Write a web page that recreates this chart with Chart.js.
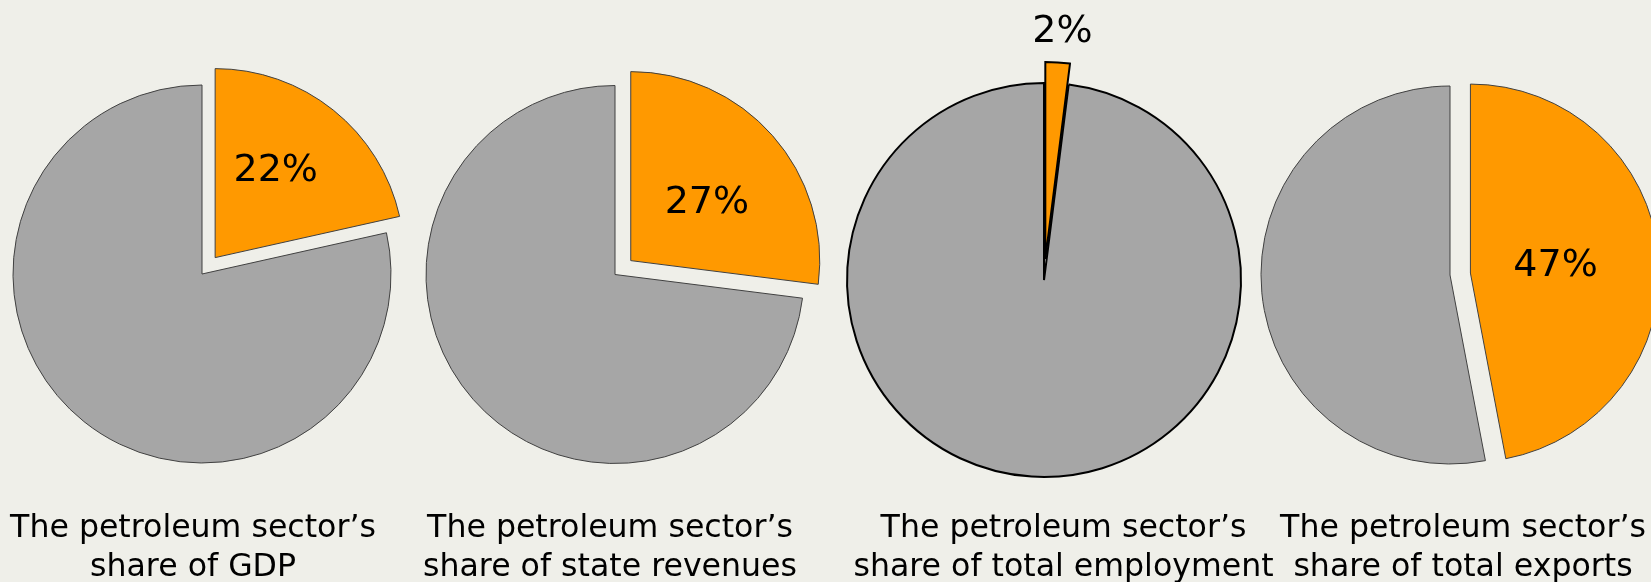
<!DOCTYPE html>
<html>
<head>
<meta charset="utf-8">
<script src="https://cdn.jsdelivr.net/npm/chart.js@4.4.0/dist/chart.umd.min.js"></script>
<style>
  html, body { margin: 0; padding: 0; width: 1651px; height: 582px; overflow: hidden; background: #EFEFE9; }
  #root { position: relative; width: 1651px; height: 582px; overflow: hidden; }
  .wrap { position: absolute; top: 0; width: 520px; height: 582px; }
  canvas { display: block; }
</style>
</head>
<body>
<div id="root"></div>
<script>
// ---------- data ----------
const sliceLabels = ["Petroleum sector", "Other sectors"];
const petroleumShare = [21.5, 27, 2, 47];
const otherShare = [78.5, 73, 98, 53];
const captionLine1 = [
  "The petroleum sector\u2019s",
  "The petroleum sector\u2019s",
  "The petroleum sector\u2019s",
  "The petroleum sector\u2019s"
];
const captionLine2 = [
  "share of GDP",
  "share of state revenues",
  "share of total employment",
  "share of total exports"
];

// ---------- layout / style (no data) ----------
const sliceColors = ["#FF9900", "#A6A6A6"];
const pieStyles = [
  { cx: 202,    cy: 274,   r: 189, explode: 21,   border: "#404040", bw: 1, labelFrac: 0.578, labelRot: -5.0, capDx: -9 },
  { cx: 615,    cy: 274.5, r: 189, explode: 21,   border: "#404040", bw: 1, labelFrac: 0.520, labelRot: 2.2,  capDx: -5 },
  { cx: 1043.5, cy: 280,   r: 197, explode: 21,   border: "#000000", bw: 2, labelFrac: 1.178, labelRot: 0.65, capDx: 19.5 },
  { cx: 1450,   cy: 275,   r: 189, explode: 20.5, border: "#404040", bw: 1, labelFrac: 0.455, labelRot: -2.6, capDx: 13 }
];
const W = 520, H = 582;
const labelFontSize = 38;

// ---------- plugins ----------
const explodePlugin = {
  id: "explode",
  afterDatasetsUpdate(chart, args, opts) {
    const meta = chart.getDatasetMeta(0);
    const ca = chart.chartArea;
    const cx = (ca.left + ca.right) / 2, cy = (ca.top + ca.bottom) / 2;
    meta.data.forEach((arc, j) => {
      const d = (opts.distances || [])[j] || 0;
      const mid = (arc.startAngle + arc.endAngle) / 2;
      arc.x = cx + Math.cos(mid) * d;
      arc.y = cy + Math.sin(mid) * d;
    });
  }
};

const labelPlugin = {
  id: "sliceLabels",
  afterDatasetsDraw(chart, args, opts) {
    const ctx = chart.ctx;
    const meta = chart.getDatasetMeta(0);
    const ds = chart.data.datasets[0];
    ctx.save();
    ctx.font = opts.size + "px 'DejaVu Sans'";
    ctx.fillStyle = opts.color;
    ctx.textAlign = "center";
    ctx.textBaseline = "alphabetic";
    meta.data.forEach((arc, j) => {
      if (!opts.show[j]) return;
      const mid = (arc.startAngle + arc.endAngle) / 2 + opts.rot * Math.PI / 180;
      const dist = arc.outerRadius * opts.frac;
      const x = arc.x + Math.cos(mid) * dist;
      const y = arc.y + Math.sin(mid) * dist + opts.size * 0.38;
      ctx.fillText(Math.round(ds.data[j]) + "%", x, y);
    });
    ctx.restore();
  }
};

const captionPlugin = {
  id: "caption",
  afterDraw(chart, args, opts) {
    const ctx = chart.ctx;
    const ca = chart.chartArea;
    const x = (ca.left + ca.right) / 2 + opts.dx;
    ctx.save();
    ctx.font = opts.font;
    ctx.fillStyle = opts.color;
    ctx.textAlign = "center";
    ctx.textBaseline = "alphabetic";
    opts.lines.forEach((t, k) => ctx.fillText(t, x, opts.baseline + k * opts.lineHeight));
    ctx.restore();
  }
};

// ---------- charts ----------
const root = document.getElementById("root");
pieStyles.forEach((s, i) => {
  const div = document.createElement("div");
  div.className = "wrap";
  div.style.left = (s.cx - W / 2) + "px";
  const c = document.createElement("canvas");
  c.width = W; c.height = H;
  c.style.width = W + "px"; c.style.height = H + "px";
  div.appendChild(c);
  root.appendChild(div);

  new Chart(c, {
    type: "pie",
    data: {
      labels: sliceLabels,
      datasets: [{
        data: [petroleumShare[i], otherShare[i]],
        backgroundColor: sliceColors,
        borderColor: s.border,
        borderWidth: s.bw,
        borderJoinStyle: "miter",
        radius: s.r
      }]
    },
    options: {
      responsive: false,
      animation: false,
      events: [],
      layout: { padding: { top: 0, left: 0, right: 0, bottom: H - 2 * s.cy } },
      plugins: {
        legend: { display: false },
        tooltip: { enabled: false },
        title: { display: false },
        explode: { distances: [s.explode, 0] },
        sliceLabels: {
          show: [true, false],
          size: labelFontSize,
          color: "#000000",
          frac: s.labelFrac,
          rot: s.labelRot
        },
        caption: {
          lines: [captionLine1[i], captionLine2[i]],
          font: "31.6px 'DejaVu Sans'",
          color: "#000000",
          dx: s.capDx,
          baseline: 537,
          lineHeight: 39.3
        }
      }
    },
    plugins: [explodePlugin, labelPlugin, captionPlugin]
  });
});
</script>
</body>
</html>
